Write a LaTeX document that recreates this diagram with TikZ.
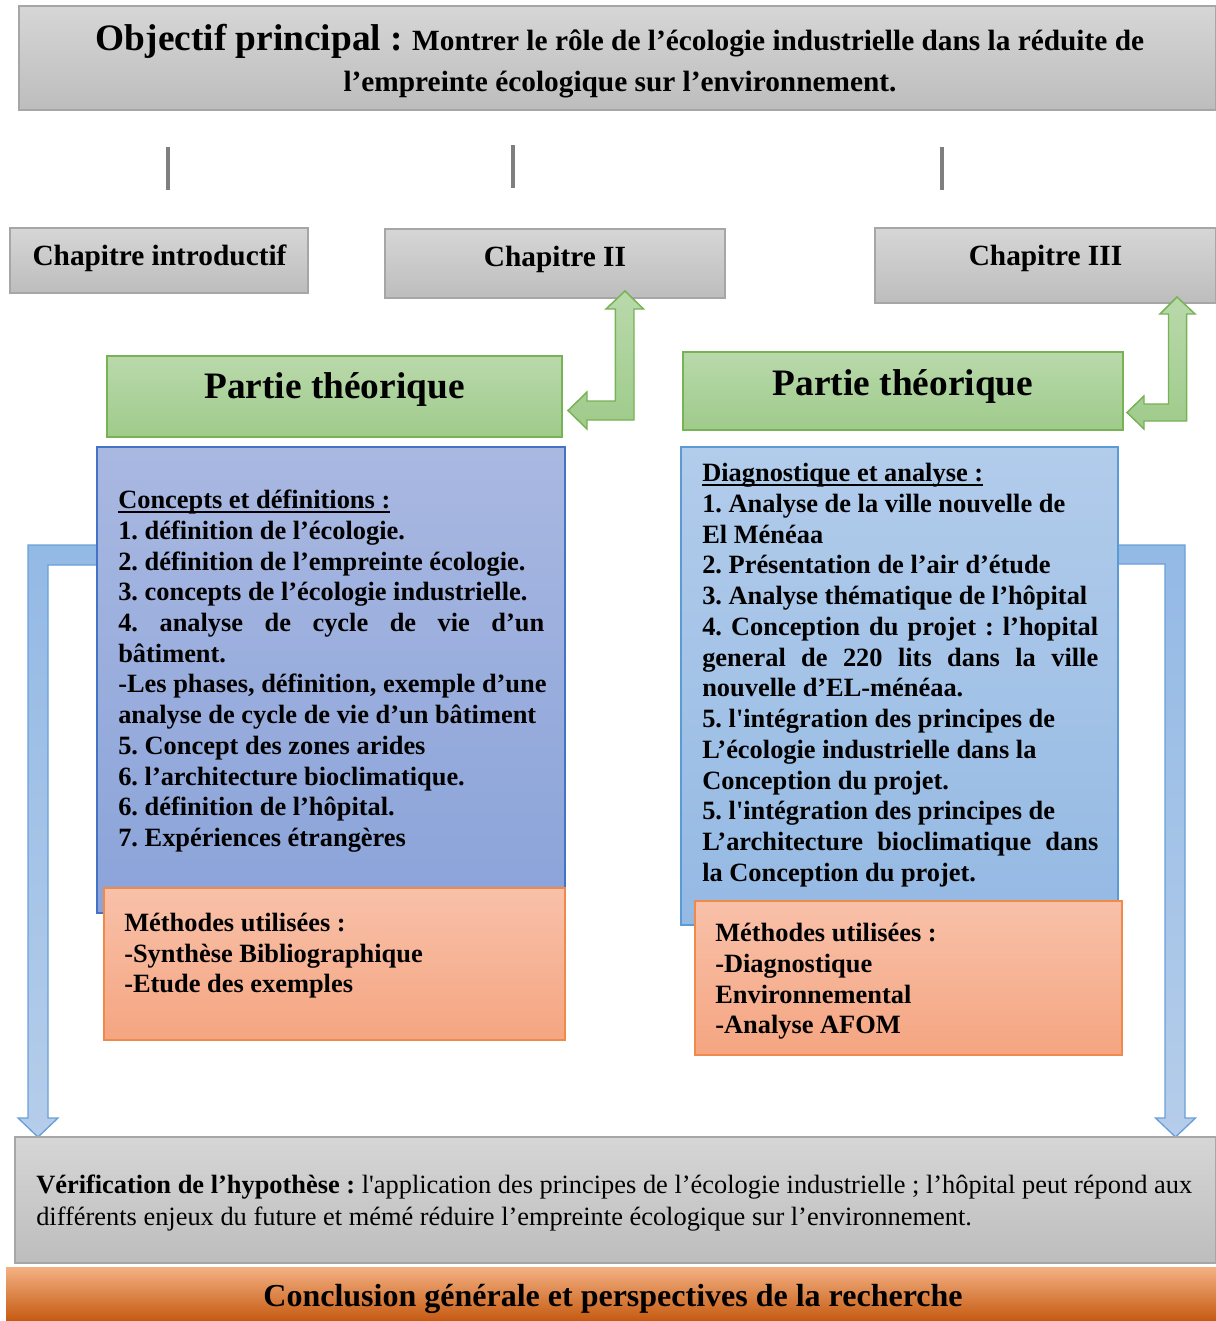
\documentclass[tikz,border=0pt]{standalone}
\usepackage{fontspec}
\setmainfont{Liberation Serif}
\usetikzlibrary{fit}
\definecolor{graytop}{HTML}{D6D6D6}
\definecolor{graybot}{HTML}{BDBDBD}
\definecolor{grayline}{HTML}{A6A6A6}
\definecolor{greentop}{HTML}{B9D9AB}
\definecolor{greenbot}{HTML}{9FCB8B}
\definecolor{greenline}{HTML}{77B255}
\definecolor{blatop}{HTML}{A9B8E1}
\definecolor{blabot}{HTML}{8AA3D9}
\definecolor{blaline}{HTML}{4472C4}
\definecolor{blbtop}{HTML}{B2CCEB}
\definecolor{blbbot}{HTML}{94B9E3}
\definecolor{blbline}{HTML}{5B9BD5}
\definecolor{ortop}{HTML}{F8C1A9}
\definecolor{orbot}{HTML}{F5A581}
\definecolor{orline}{HTML}{F08A4B}
\definecolor{ctop}{HTML}{F4B183}
\definecolor{cmid}{HTML}{ED7D31}
\definecolor{cbot}{HTML}{C55A11}
\definecolor{arrtop}{HTML}{93B9E5}
\definecolor{arrbot}{HTML}{B5CDEA}
\definecolor{arrline}{HTML}{6A9FD9}
\definecolor{vline}{HTML}{7F7F7F}
\newcommand\thickul[1]{\setbox0\hbox{#1}\rlap{\rule[-3pt]{\wd0}{1.3pt}}\box0}
\begin{document}
\frenchspacing
\begin{tikzpicture}[x=0.75pt,y=-0.75pt,
  graybox/.style={draw=grayline, line width=1pt, top color=graytop, bottom color=graybot, inner sep=0pt},
  greenbox/.style={draw=greenline, line width=1pt, top color=greentop, bottom color=greenbot, inner sep=0pt},
  blueboxa/.style={draw=blaline, line width=0.8pt, top color=blatop, bottom color=blabot, inner sep=0pt},
  blueboxb/.style={draw=blbline, line width=0.8pt, top color=blbtop, bottom color=blbbot, inner sep=0pt},
  orangebox/.style={draw=orline, line width=0.9pt, top color=ortop, bottom color=orbot, inner sep=0pt},
  conclbox/.style={top color=ctop, middle color=cmid, bottom color=cbot, inner sep=0pt},
  greenarrow/.style={draw=greenline, line width=1.1pt, top color=greentop, bottom color=greenbot},
  bluearrow/.style={draw=arrline, line width=1pt, top color=arrtop, bottom color=arrbot},
  vln/.style={draw=vline, line width=2.6pt},
  txt/.style={inner sep=0pt, text=black},
  bodytxt/.style={txt, font=\fontsize{19.8}{23.06}\selectfont\bfseries, anchor=base west},
]
\useasboundingbox (0,0) rectangle (1216,1321);

% arrows (behind boxes)
\path[bluearrow] (105,545) -- (28,545) -- (28,1118) -- (18,1118) -- (38,1137) -- (58,1118) -- (48,1118) -- (48,565) -- (105,565) -- cycle;
\path[bluearrow] (1110,545) -- (1185,545) -- (1185,1118) -- (1195.5,1118) -- (1175.5,1137) -- (1155.5,1118) -- (1165,1118) -- (1165,564) -- (1110,564) -- cycle;

% boxes
\node[graybox, fit={(19,6) (1216,110)}] (obj) {};
\node[graybox, fit={(10,228) (308,293)}] (ch1) {};
\node[graybox, fit={(385,229) (725,298)}] (ch2) {};
\node[graybox, fit={(875,228) (1216,303)}] (ch3) {};
\node[greenbox, fit={(107,356) (562,437)}] (pt1) {};
\node[greenbox, fit={(683,352) (1123,430)}] (pt2) {};
\node[blueboxa, fit={(97,447) (565,913)}] (bl1) {};
\node[orangebox, fit={(104,888) (565,1040)}] (or1) {};
\node[blueboxb, fit={(681,447) (1118,925)}] (bl2) {};
\node[orangebox, fit={(695,901) (1122,1055)}] (or2) {};
\node[graybox, fit={(15,1137) (1216,1263)}] (verif) {};
\node[conclbox, fit={(6,1267) (1216,1321)}] (concl) {};

% green elbow arrows
\path[greenarrow] (625,291) -- (643.5,309) -- (634,309) -- (634,420) -- (587,420) -- (587,429) -- (568,410.5) -- (587,392) -- (587,401) -- (615.4,401) -- (615.4,309) -- (606,309) -- cycle;
\path[greenarrow] (1177,297) -- (1195,314) -- (1186.6,314) -- (1186.6,421) -- (1144,421) -- (1144,429) -- (1127,412.5) -- (1144,396) -- (1144,404) -- (1168.5,404) -- (1168.5,314) -- (1160,314) -- cycle;

% vertical gray lines
\coordinate (la1) at (168,147); \coordinate (lb1) at (168,190);
\coordinate (la2) at (513,145); \coordinate (lb2) at (513,188);
\coordinate (la3) at (942,147); \coordinate (lb3) at (942,190);
\draw[vln] (la1) -- (lb1);
\draw[vln] (la2) -- (lb2);
\draw[vln] (la3) -- (lb3);

% texts
\node[txt, anchor=base, font=\fontsize{28}{32}\selectfont\bfseries] (t1) at (620,50.7)
  {Objectif principal : {\fontsize{22}{29}\selectfont Montrer le rôle de l’écologie industrielle dans la réduite de}};
\node[txt, anchor=base, font=\fontsize{22}{29}\selectfont\bfseries] (t2) at (620,91)
  {l’empreinte écologique sur l’environnement.};

\node[txt, anchor=base, font=\fontsize{22}{26}\selectfont\bfseries] (c1) at (159.5,265) {Chapitre introductif};
\node[txt, anchor=base, font=\fontsize{22}{26}\selectfont\bfseries] (c2) at (555,266) {Chapitre II};
\node[txt, anchor=base, font=\fontsize{22}{26}\selectfont\bfseries] (c3) at (1045.5,265) {Chapitre III};

\node[txt, anchor=base, font=\fontsize{28}{32}\selectfont\bfseries] (p1) at (334.5,398) {Partie théorique};
\node[txt, anchor=base, font=\fontsize{28}{32}\selectfont\bfseries] (p2) at (903,395) {Partie théorique};

\node[bodytxt] (lt) at (118,508.5) {\begin{tabular}[t]{@{}l@{}}
\thickul{Concepts et définitions :}\\
1. définition de l’écologie.\\
2. définition de l’empreinte écologie.\\
3. concepts de l’écologie industrielle.\\
\makebox[319.5pt][s]{4. analyse de cycle de vie d’un}\\
bâtiment.\\
-Les phases, définition, exemple d’une\\
analyse de cycle de vie d’un bâtiment\\
5. Concept des zones arides\\
6. l’architecture bioclimatique.\\
6. définition de l’hôpital.\\
7. Expériences étrangères
\end{tabular}};

\node[bodytxt] (rt) at (702,481.7) {\begin{tabular}[t]{@{}l@{}}
\thickul{Diagnostique et analyse :}\\
1. Analyse de la ville nouvelle de\\
El Ménéaa\\
2. Présentation de l’air d’étude\\
3. Analyse thématique de l’hôpital\\
\makebox[297pt][s]{4. Conception du projet : l’hopital}\\
\makebox[297pt][s]{general de 220 lits dans la ville}\\
nouvelle d’EL-ménéaa.\\
5. l\textquotesingle intégration des principes de\\
L’écologie industrielle dans la\\
Conception du projet.\\
5. l\textquotesingle intégration des principes de\\
\makebox[297pt][s]{L’architecture bioclimatique dans}\\
la Conception du projet.
\end{tabular}};

\node[bodytxt, font=\fontsize{19.8}{22.8}\selectfont\bfseries] (lo) at (124,931.7) {\begin{tabular}[t]{@{}l@{}}
Méthodes utilisées :\\
-Synthèse Bibliographique\\
-Etude des exemples
\end{tabular}};

\node[bodytxt, font=\fontsize{19.8}{23.0}\selectfont\bfseries] (ro) at (715,941.7) {\begin{tabular}[t]{@{}l@{}}
Méthodes utilisées :\\
-Diagnostique\\
Environnemental\\
-Analyse AFOM
\end{tabular}};

\node[txt, anchor=base west, font=\fontsize{19.8}{24.3}\selectfont] (vt) at (36,1193.3) {\begin{tabular}[t]{@{}l@{}}
\textbf{Vérification de l’hypothèse :} l\textquotesingle application des principes de l’écologie industrielle ; l’hôpital peut répond aux\\
différents enjeux du future et mémé réduire l’empreinte écologique sur l’environnement.
\end{tabular}};

\node[txt, anchor=base, font=\fontsize{24}{28}\selectfont\bfseries] (ct) at (613,1306.7) {Conclusion générale et perspectives de la recherche};
\end{tikzpicture}
\end{document}
